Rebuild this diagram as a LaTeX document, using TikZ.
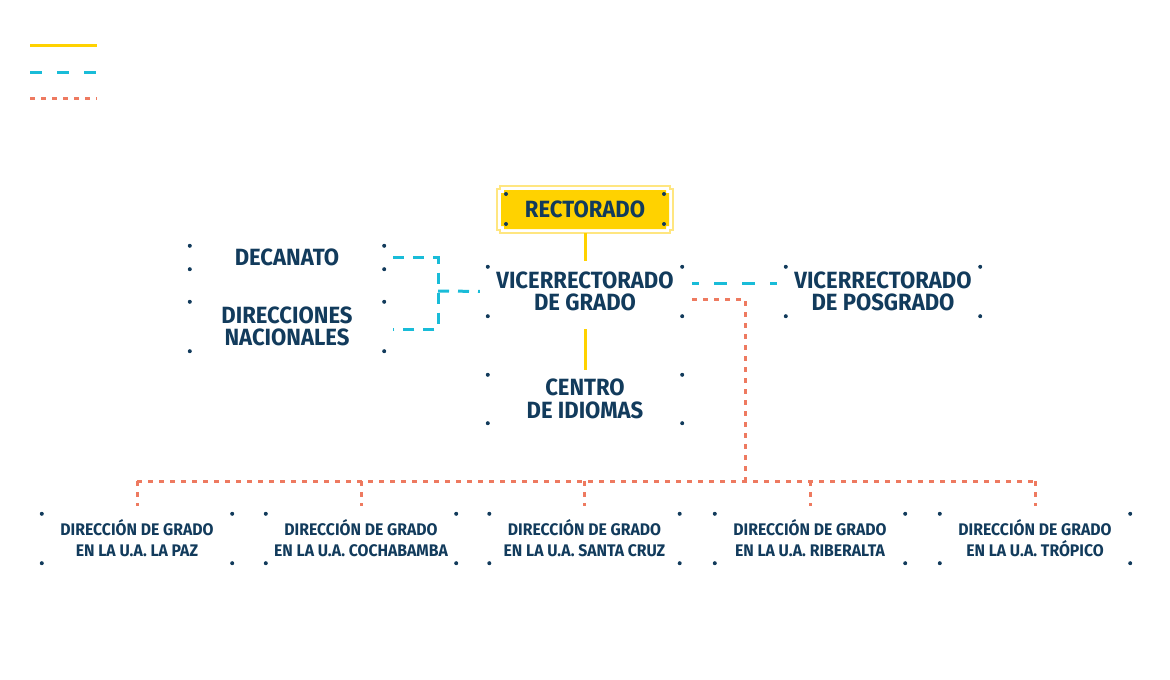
\documentclass[tikz,border=0pt]{standalone}
\usepackage{fontspec}
\newfontfamily\lblfont{Fira Sans}[FakeStretch=0.94]
\usetikzlibrary{calc}
\definecolor{navy}{HTML}{123B5C}
\definecolor{ylw}{HTML}{FFD200}
\definecolor{paleylw}{HTML}{FFE680}
\definecolor{cyn}{HTML}{19BCD8}
\definecolor{sal}{HTML}{EE7A60}
\tikzset{
  box/.style={inner sep=0pt, align=center, text=navy, minimum width=194pt, minimum height=49pt,
    font=\lblfont\bfseries\fontsize{23.5}{22.5}\selectfont},
  uabox/.style={box, minimum width=190pt, font=\lblfont\bfseries\fontsize{16.8}{21}\selectfont},
  yline/.style={draw=ylw, line width=3pt},
  cline/.style={draw=cyn, line width=3pt, dash pattern=on 11pt off 9pt},
  sline/.style={draw=sal, line width=3pt, dash pattern=on 5pt off 6pt},
}
\begin{document}
\begin{tikzpicture}[x=1pt,y=-1pt]
\useasboundingbox (0,0) rectangle (1170,680);
% legend
\draw[draw=ylw, line width=3pt] (30,45) -- (97,45);
\draw[draw=cyn, line width=3pt, dash pattern=on 12pt off 15pt] (30,72) -- (97,72);
\draw[sline] (30,98) -- (97,98);
% Rectorado shape
\draw[paleylw, line width=1.2pt] (500,186) -- (670,186) -- (670,189) -- (673,189) -- (673,230) -- (670,230) -- (670,233) -- (500,233) -- (500,230) -- (497,230) -- (497,189) -- (500,189) -- cycle;
\fill[ylw] (504,190) -- (666,190) -- (666,193) -- (669,193) -- (669,226) -- (666,226) -- (666,229) -- (504,229) -- (504,226) -- (501,226) -- (501,193) -- (504,193) -- cycle;
\foreach \p in {(506,194),(664,194),(506,224),(664,224)} \fill[navy] \p circle (2);
% nodes
\node[box, minimum width=176pt, minimum height=47pt] (rect) at (585,209.5) {RECTORADO};
\node[box] (vdg) at (585,291.5) {VICERRECTORADO\\DE GRADO};
\node[box] (vdp) at (883,291.5) {VICERRECTORADO\\DE POSGRADO};
\node[box, minimum height=48pt] (centro) at (585,399) {CENTRO\\DE IDIOMAS};
\node[box, minimum height=23pt] (dec) at (287,257.5) {DECANATO};
\node[box] (dir) at (287,326.5) {DIRECCIONES\\NACIONALES};
\node[uabox] (ua1) at (137,538.5) {DIRECCIÓN DE GRADO\\EN LA U.A. LA PAZ};
\node[uabox] (ua2) at (361,538.5) {DIRECCIÓN DE GRADO\\EN LA U.A. COCHABAMBA};
\node[uabox] (ua3) at (584.5,538.5) {DIRECCIÓN DE GRADO\\EN LA U.A. SANTA CRUZ};
\node[uabox] (ua4) at (810,538.5) {DIRECCIÓN DE GRADO\\EN LA U.A. RIBERALTA};
\node[uabox] (ua5) at (1035,538.5) {DIRECCIÓN DE GRADO\\EN LA U.A. TRÓPICO};
\foreach \n in {vdg,vdp,centro,dec,dir,ua1,ua2,ua3,ua4,ua5}
  \foreach \a in {north west,north east,south west,south east}
    \fill[navy] (\n.\a) circle (2);
% connectors
\draw[yline, shorten >=6pt] (rect.south) -- (vdg.north);
\draw[yline, shorten <=13pt, shorten >=5pt] (vdg.south) -- (centro.north);
\draw[draw=cyn, line width=3pt, dash pattern=on 13pt off 15pt, dash phase=6pt, shorten <=10pt, shorten >=9pt]
  ([yshift=8.5pt]vdg.east) -- ([yshift=8.5pt]vdp.west);
\coordinate (j) at (438,291);
\draw[cline, shorten <=9pt, shorten >=9pt] (dec.east) -| (j) |- ([yshift=-2.5pt]dir.east);
\draw[cline, shorten >=8pt] (j) -- (vdg.west);
\coordinate (bus) at (745,481);
\draw[sline, shorten <=10pt] ([yshift=-7.5pt]vdg.east) -| (bus);
\draw[sline] (ua1.north |- bus) -- (ua5.north |- bus);
\foreach \u in {ua1,ua2,ua3,ua4,ua5}
  \draw[sline, shorten >=8pt] (\u.north |- bus) -- (\u.north);
\end{tikzpicture}
\end{document}
